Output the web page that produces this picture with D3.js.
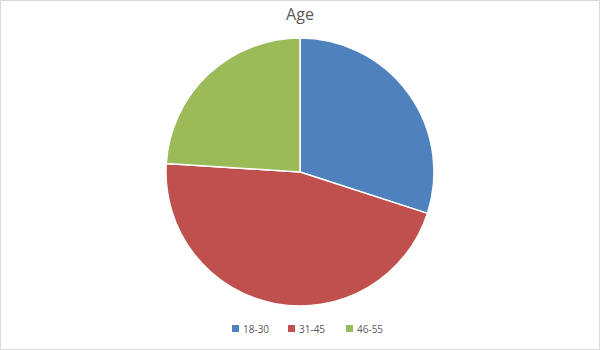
<!DOCTYPE html>
<html>
<head>
<meta charset="utf-8">
<script src="https://cdn.jsdelivr.net/npm/d3@7"></script>
<style>
  html, body { margin: 0; padding: 0; background: #fff; }
  svg { display: block; font-family: "Open Sans", "Noto Sans", sans-serif; }
</style>
</head>
<body>
<div id="chart"></div>
<script>
// Age groups and their shares
const categories = ['18-30', '31-45', '46-55'];
const values = [30, 46, 24];
const colors = ['#4f81bd', '#c0504d', '#9bbb59'];

const width = 600;
const height = 350;
const cx = 300, cy = 172, radius = 134;

const svg = d3.select('#chart')
  .append('svg')
  .attr('width', width)
  .attr('height', height);

// chart border
svg.append('rect')
  .attr('x', 0.5).attr('y', 0.5)
  .attr('width', width - 1).attr('height', height - 1)
  .attr('fill', '#fff')
  .attr('stroke', '#d9d9d9');

// title
svg.append('text')
  .attr('x', width / 2)
  .attr('y', 20)
  .attr('text-anchor', 'middle')
  .attr('font-size', 16)
  .attr('fill', '#595959')
  .text('Age');

const color = d3.scaleOrdinal().domain(categories).range(colors);

const pie = d3.pie().sort(null).value(d => d.value);
const arc = d3.arc().innerRadius(0).outerRadius(radius);

const data = categories.map((c, i) => ({ label: c, value: values[i] }));

svg.append('g')
  .attr('transform', `translate(${cx},${cy})`)
  .selectAll('path')
  .data(pie(data))
  .join('path')
  .attr('d', arc)
  .attr('fill', d => color(d.data.label))
  .attr('stroke', '#fff')
  .attr('stroke-width', 1.5);

// legend
const legendX = [232, 288, 346];
const legend = svg.append('g');
const items = legend.selectAll('g')
  .data(categories)
  .join('g')
  .attr('transform', (d, i) => `translate(${legendX[i]},325)`);

items.append('rect')
  .attr('width', 7).attr('height', 7)
  .attr('fill', d => color(d));

items.append('text')
  .attr('x', 11)
  .attr('y', 8)
  .attr('font-size', 10)
  .attr('fill', '#595959')
  .text(d => d);
</script>
</body>
</html>
